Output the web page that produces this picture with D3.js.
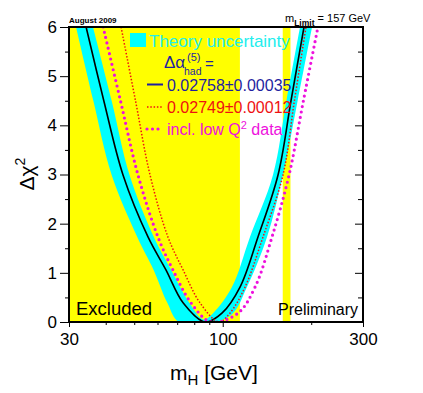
<!DOCTYPE html>
<html>
<head>
<meta charset="utf-8">
<script src="https://cdn.jsdelivr.net/npm/d3@7"></script>
<style>
  body { margin: 0; background: #fff; }
  svg { display: block; font-family: "Liberation Sans", Arial, sans-serif; }
</style>
</head>
<body>
<div class="chart"></div>
<script>
/* Blue band plot: delta chi2 vs mH */

// excluded mH regions [from, to] in GeV
var excluded = [[30, 114.4], [160, 170]];

// central fit, [mH, dchi2]
var fitCentral = [[34.3, 6.0], [39.4, 4.5], [45.8, 2.99], [55.7, 1.73], [64.1, 1.06], [73.3, 0.39], [87, 0],
    [99.4, 0.18], [114.5, 0.71], [131.8, 1.73], [154.2, 2.99], [170.7, 4.5], [189, 6.0]];

// alternative delta alpha had
var fitAlpha = [[45.1, 6.0], [50.5, 4.5], [56.6, 2.99], [65.1, 1.73], [73.3, 1.06], [83.7, 0.39], [97, 0],
    [105.8, 0.18], [119.1, 0.71], [137.1, 1.73], [160.3, 2.99], [175.3, 4.5], [192, 6.0]];

// incl. low Q2 data
var fitLowQ2 = [[39.2, 6.0], [44.9, 4.5], [51.5, 2.99], [60.2, 1.73], [67.7, 1.06], [78.0, 0.39], [91.2, 0],
    [112.7, 0.18], [128.8, 0.71], [147.1, 1.73], [168.1, 2.99], [188.1, 4.5], [210.8, 6.0]];

// theory uncertainty band edges
var bandOuter = [[31.7, 6.0], [36.3, 4.5], [41.9, 2.99], [51.2, 1.73], [58.2, 1.06], [64.8, 0.39], [71, 0],
    [94.2, 0], [108.4, 0.18], [120.9, 0.71], [141.5, 1.73], [160.3, 2.99], [179.8, 4.5], [201.3, 6.0]];
var bandInner = [[36.2, 6.0], [41.9, 4.5], [48.2, 2.99], [58.3, 1.73], [66.8, 1.06], [77.0, 0.39], [86, 0.05],
    [92.7, 0.18], [107.5, 0.71], [123.8, 1.73], [148.2, 2.99], [164.7, 4.5], [183.2, 6.0]];

var xMajor = [30, 100, 300];
var xMinor = [40, 50, 60, 70, 80, 90, 200];
var yMajor = [0, 1, 2, 3, 4, 5, 6];
var yMinor = [0.5, 1.5, 2.5, 3.5, 4.5, 5.5];

document.addEventListener("DOMContentLoaded", function () {
    var w = 423, h = 393;
    var left = 69, right = 363, top = 27, bottom = 322;

    var x = d3.scaleLog().domain([30, 300]).range([left, right]);
    var y = d3.scaleLinear().domain([0, 6]).range([bottom, top]);

    var svg = d3.select(".chart").append("svg")
        .attr("width", w).attr("height", h);

    svg.append("defs").append("clipPath").attr("id", "plot")
        .append("rect").attr("x", left).attr("y", top)
        .attr("width", right - left).attr("height", bottom - top);

    var plot = svg.append("g").attr("clip-path", "url(#plot)");

    // excluded regions
    plot.selectAll("rect.excl")
        .data(excluded)
        .enter().append("rect")
        .attr("class", "excl")
        .attr("x", function (d) { return x(d[0]); })
        .attr("width", function (d) { return x(d[1]) - x(d[0]); })
        .attr("y", top).attr("height", bottom - top)
        .attr("fill", "#ffff00");

    var line = d3.line()
        .x(function (d) { return x(d[0]); })
        .y(function (d) { return y(d[1]); })
        .curve(d3.curveCatmullRom.alpha(0.5));

    // band: both edges closed along the top, even-odd fill leaves the gap between them
    plot.append("path")
        .attr("d", line(bandOuter) + "Z" + line(bandInner) + "Z")
        .attr("fill", "#00ffff")
        .attr("fill-rule", "evenodd");

    plot.append("path").attr("d", line(fitCentral))
        .attr("fill", "none").attr("stroke", "#000").attr("stroke-width", 1.6);

    plot.append("path").attr("d", line(fitAlpha))
        .attr("fill", "none").attr("stroke", "#ee1111").attr("stroke-width", 1.5)
        .attr("stroke-dasharray", "1.5,1.8");

    plot.append("path").attr("d", line(fitLowQ2))
        .attr("fill", "none").attr("stroke", "#ee11dd").attr("stroke-width", 3.2)
        .attr("stroke-linecap", "round").attr("stroke-dasharray", "0,5.5");

    // legend
    var lg = svg.append("g");
    lg.append("rect").attr("x", 130).attr("y", 33).attr("width", 16).attr("height", 14)
        .attr("fill", "#00ffff");
    lg.append("text").attr("x", 149).attr("y", 47).attr("font-size", 17)
        .attr("fill", "#22eeee").text("Theory uncertainty");

    lg.append("text").attr("x", 164).attr("y", 68).attr("font-size", 17)
        .attr("fill", "#1f1fa0").text("Δα");
    lg.append("text").attr("x", 187).attr("y", 61).attr("font-size", 11)
        .attr("fill", "#1f1fa0").text("(5)");
    lg.append("text").attr("x", 184).attr("y", 74.5).attr("font-size", 10.5)
        .attr("fill", "#1f1fa0").text("had");
    lg.append("text").attr("x", 205).attr("y", 69).attr("font-size", 15)
        .attr("fill", "#1f1fa0").text("=");

    var rows = [
        { y: 84.5, color: "#1f1fa0", text: "0.02758±0.00035", width: 2, dash: null, cap: "butt" },
        { y: 107, color: "#ee1111", text: "0.02749±0.00012", width: 1.5, dash: "1.5,1.8", cap: "butt" },
        { y: 129, color: "#ee11dd", text: "incl. low Q", width: 3.2, dash: "0,5.5", cap: "round" }
    ];
    rows.forEach(function (r) {
        lg.append("line").attr("x1", 147).attr("x2", 163).attr("y1", r.y).attr("y2", r.y)
            .attr("stroke", r.color).attr("stroke-width", r.width)
            .attr("stroke-dasharray", r.dash).attr("stroke-linecap", r.cap);
        var t = lg.append("text").attr("x", 167).attr("y", r.y + 6).attr("font-size", 16)
            .attr("fill", r.color).text(r.text);
        if (r.text === "incl. low Q") {
            t.append("tspan").attr("dy", -6).attr("font-size", 11).text("2");
            t.append("tspan").attr("dy", 6).text(" data");
        }
    });

    // frame
    svg.append("rect").attr("x", left).attr("y", top)
        .attr("width", right - left).attr("height", bottom - top)
        .attr("fill", "none").attr("stroke", "#000").attr("stroke-width", 2);

    // axes
    var ax = svg.append("g").attr("transform", "translate(" + left + ",0)")
        .call(d3.axisLeft(y).tickValues(yMajor).tickSize(9).tickPadding(3).tickFormat(d3.format("d")));
    svg.append("g").attr("transform", "translate(" + left + ",0)")
        .call(d3.axisLeft(y).tickValues(yMinor).tickSize(4).tickFormat(""));
    svg.append("g").attr("transform", "translate(" + right + ",0)")
        .call(d3.axisLeft(y).tickValues(yMajor).tickSize(8).tickFormat(""));
    svg.append("g").attr("transform", "translate(" + right + ",0)")
        .call(d3.axisLeft(y).tickValues(yMinor).tickSize(5).tickFormat(""));
    var bx = svg.append("g").attr("transform", "translate(0," + bottom + ")")
        .call(d3.axisBottom(x).tickValues(xMajor).tickSize(5).tickPadding(6).tickFormat(d3.format("d")));
    svg.append("g").attr("transform", "translate(0," + bottom + ")")
        .call(d3.axisBottom(x).tickValues(xMinor).tickSize(3).tickFormat(""));

    svg.selectAll(".domain").remove();
    svg.selectAll(".tick line").attr("stroke", "#000").attr("stroke-width", 1);
    ax.selectAll("text").attr("font-size", 17).attr("font-family", "Liberation Sans").attr("fill", "#000");
    bx.selectAll("text").attr("font-size", 17).attr("font-family", "Liberation Sans").attr("fill", "#000");

    // axis titles
    var xt = svg.append("text").attr("x", 170).attr("y", 380).attr("font-size", 21);
    xt.append("tspan").text("m");
    xt.append("tspan").attr("dy", 5).attr("font-size", 15).text("H");
    xt.append("tspan").attr("dy", -5).text(" [GeV]");

    var yt = svg.append("text").attr("transform", "translate(34,174) rotate(-90)")
        .attr("text-anchor", "middle").attr("font-size", 21);
    yt.append("tspan").text("Δχ");
    yt.append("tspan").attr("dy", -9).attr("font-size", 14).text("2");

    // annotations
    svg.append("text").attr("x", 76).attr("y", 315).attr("font-size", 18.5).text("Excluded");
    svg.append("text").attr("x", 278).attr("y", 315).attr("font-size", 16).text("Preliminary");
    svg.append("text").attr("x", 69).attr("y", 23).attr("font-size", 8)
        .attr("font-weight", "bold").text("August 2009");
    var ml = svg.append("text").attr("x", 285).attr("y", 22).attr("font-size", 11);
    ml.append("tspan").text("m");
    ml.append("tspan").attr("dy", 4).attr("font-size", 8.5).attr("font-weight", "bold").text("Limit");
    ml.append("tspan").attr("dy", -4).text(" = 157 GeV");
});
</script>
</body>
</html>
